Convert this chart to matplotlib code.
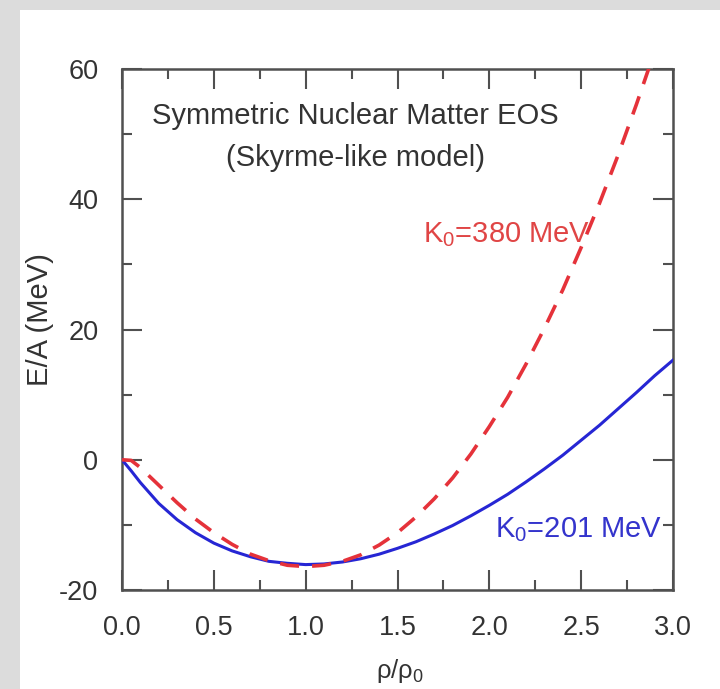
import matplotlib
matplotlib.use("Agg")
import matplotlib.pyplot as plt
from matplotlib.patches import Rectangle
from matplotlib.ticker import MultipleLocator, FormatStrFormatter

plt.rcParams['font.family'] = ['Liberation Sans', 'DejaVu Sans']
plt.rcParams['mathtext.fontset'] = 'custom'
plt.rcParams['mathtext.rm'] = 'Liberation Sans'
plt.rcParams['mathtext.it'] = 'Liberation Sans:italic'
plt.rcParams['axes.unicode_minus'] = False

# density in units of saturation density
rho = [0.0, 0.05, 0.1, 0.2, 0.3, 0.4, 0.5, 0.6, 0.7, 0.8, 0.9, 1.0,
       1.1, 1.2, 1.3, 1.4, 1.5, 1.6, 1.7, 1.8, 1.9, 2.0,
       2.1, 2.2, 2.3, 2.4, 2.5, 2.6, 2.7, 2.8, 2.9, 3.0]

# energy per nucleon (MeV), soft EOS K0 = 201 MeV
ea_soft = [0.0, -1.7, -3.5, -6.7, -9.2, -11.2, -12.8, -14.0, -14.9, -15.6, -15.9, -16.1,
           -16.0, -15.7, -15.2, -14.5, -13.6, -12.6, -11.4, -10.1, -8.6, -7.0,
           -5.3, -3.4, -1.4, 0.7, 3.0, 5.3, 7.8, 10.3, 12.9, 15.3]

# energy per nucleon (MeV), stiff EOS K0 = 380 MeV
ea_stiff = [0.0, -0.1, -1.2, -3.9, -6.6, -9.1, -11.2, -13.0, -14.5, -15.5, -16.2, -16.4,
            -16.2, -15.6, -14.6, -13.1, -11.2, -8.8, -6.0, -2.8, 0.9, 5.1,
            9.6, 14.7, 20.2, 26.1, 32.6, 39.4, 46.7, 54.5, 62.7, 71.4]

fig = plt.figure(figsize=(7.2, 6.89), dpi=100, facecolor='#dcdcdc')
# white card behind the plot
fig.patches.append(Rectangle((20 / 720, 0), 1, 1 - 10 / 689, transform=fig.transFigure,
                             facecolor='white', edgecolor='none', zorder=-5))

ax = fig.add_axes([122 / 720, 99 / 689, 551 / 720, 521 / 689])
ax.set_facecolor('white')

ax.plot(rho, ea_soft, color='#2626d4', lw=2.2, zorder=3)
ax.plot(rho, ea_stiff, color='#e5323a', lw=2.6, linestyle=(0, (5.3, 3.6)), zorder=3)

ax.set_xlim(0, 3)
ax.set_ylim(-20, 60)
ax.xaxis.set_major_locator(MultipleLocator(0.5))
ax.xaxis.set_minor_locator(MultipleLocator(0.25))
ax.yaxis.set_major_locator(MultipleLocator(20))
ax.yaxis.set_minor_locator(MultipleLocator(10))
ax.xaxis.set_major_formatter(FormatStrFormatter('%.1f'))

for s in ax.spines.values():
    s.set_color('#505050')
    s.set_linewidth(1.8)
ax.tick_params(which='both', direction='in', top=True, right=True,
               color='#505050', width=1.5, labelcolor='#333333', labelsize=19.5)
ax.tick_params(which='major', length=14.4)
ax.tick_params(which='minor', length=7.2)
ax.tick_params(axis='x', pad=18)
ax.tick_params(axis='y', pad=17)

# axis titles
fig.text(400 / 720, 1 - 671 / 689, r'ρ/ρ$_{\mathrm{0}}$', ha='center', va='center',
         fontsize=18.5, color='#333333')
fig.text(40 / 720, 1 - 320 / 689, 'E/A (MeV)', ha='center', va='center',
         rotation=90, fontsize=21, color='#333333')

ax.text(0.423, 0.910, 'Symmetric Nuclear Matter EOS', transform=ax.transAxes,
        ha='center', va='center', fontsize=21, color='#333333')
ax.text(0.423, 0.829, '(Skyrme-like model)', transform=ax.transAxes,
        ha='center', va='center', fontsize=21, color='#333333')

ax.text(1.64, 34.5, r'K$_{\mathrm{0}}$=380 MeV', ha='left', va='center',
        fontsize=21, color='#e04545')
ax.text(2.03, -10.8, r'K$_{\mathrm{0}}$=201 MeV', ha='left', va='center',
        fontsize=21, color='#3434cc')

fig.savefig('out.png', dpi=100, facecolor=fig.get_facecolor())
